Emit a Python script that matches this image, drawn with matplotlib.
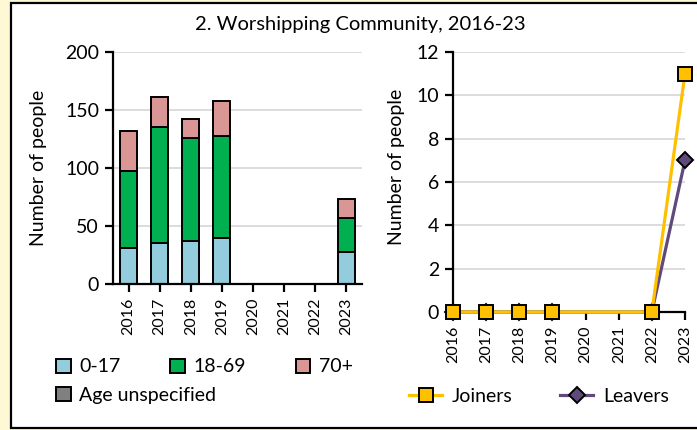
import matplotlib

matplotlib.use("Agg")
import matplotlib.pyplot as plt
import numpy as np
from matplotlib.lines import Line2D
from matplotlib.patches import Patch, Rectangle

plt.rcParams["font.family"] = ["Lato", "DejaVu Sans"]

# data
years = ["2016", "2017", "2018", "2019", "2020", "2021", "2022", "2023"]
age_0_17 = [31, 35, 37, 40, 0, 0, 0, 28]
age_18_69 = [66, 100, 89, 88, 0, 0, 0, 29]
age_70_plus = [35, 26, 16, 30, 0, 0, 0, 16]
age_unspecified = [0, 0, 0, 0, 0, 0, 0, 0]
joiners = [0, 0, 0, 0, None, None, 0, 11]
leavers = [0, 0, 0, 0, None, None, 0, 7]

C_YOUNG = "#93CDDD"
C_ADULT = "#00B050"
C_OLD = "#D99694"
C_UNSPEC = "#808080"
C_JOIN = "#FFC000"
C_LEAVE = "#604A7B"
GRID = "#D9D9D9"
FS = 14

fig = plt.figure(figsize=(6.97, 4.30), dpi=100, facecolor="#FEF8D4")
fig.patches.append(Rectangle((10.5 / 697, 2.5 / 430), 1.0, 425 / 430, transform=fig.transFigure,
                             facecolor="white", edgecolor="black", linewidth=1.6, zorder=-1))

fig.text(0.517, 0.942, "2. Worshipping Community, 2016-23", ha="center", va="center", fontsize=14.5)


def style_axes(ax):
    ax.set_facecolor("none")
    for side in ("top", "right"):
        ax.spines[side].set_visible(False)
    for side in ("left", "bottom"):
        ax.spines[side].set_linewidth(1.6)
    ax.yaxis.grid(True, color=GRID, linewidth=1.3)
    ax.set_axisbelow(True)
    ax.tick_params(axis="both", direction="out", length=6, width=1.6, color="black")
    ax.tick_params(axis="y", labelsize=FS, pad=4)
    ax.tick_params(axis="x", labelsize=11.5, labelrotation=90, pad=4)
    ax.set_ylabel("Number of people", fontsize=FS)


# stacked bars by age group
ax1 = fig.add_axes([113 / 697, 1 - 284 / 430, 249 / 697, 232 / 430])
x = np.arange(len(years))
bottom = np.zeros(len(years))
for vals, col in [(age_0_17, C_YOUNG), (age_18_69, C_ADULT), (age_70_plus, C_OLD), (age_unspecified, C_UNSPEC)]:
    vals = np.array(vals, dtype=float)
    mask = vals > 0
    ax1.bar(x[mask], vals[mask], bottom=bottom[mask], width=0.55, color=col, edgecolor="black", linewidth=1.4)
    bottom += vals
ax1.set_xlim(-0.5, len(years) - 0.5)
ax1.set_ylim(0, 200)
ax1.set_yticks([0, 50, 100, 150, 200])
ax1.set_xticks(x)
ax1.set_xticklabels(years)
style_axes(ax1)
ax1.yaxis.set_label_coords(-0.265, 0.5)

legend_kw = dict(frameon=False, fontsize=FS, handlelength=0.75, handleheight=0.75, handletextpad=0.45,
                 borderpad=0, borderaxespad=0)
row1 = [Patch(facecolor=c, edgecolor="black", linewidth=1.4) for c in (C_YOUNG, C_ADULT, C_OLD)]
fig.legend(row1, ["0-17", "18-69", "70+"], loc="center left", bbox_to_anchor=(56 / 697, 1 - 367 / 430),
           ncol=3, columnspacing=2.55, **legend_kw)
fig.legend([Patch(facecolor=C_UNSPEC, edgecolor="black", linewidth=1.4)], ["Age unspecified"],
           loc="center left", bbox_to_anchor=(56 / 697, 1 - 395 / 430), **legend_kw)

# joiners and leavers
ax2 = fig.add_axes([453 / 697, 1 - 312 / 430, 232 / 697, 260 / 430])
for vals, col, mk, ms in [(leavers, C_LEAVE, "D", 8), (joiners, C_JOIN, "s", 10)]:
    v = np.array([np.nan if val is None else val for val in vals], dtype=float)
    ok = ~np.isnan(v)
    ax2.plot(x[ok], v[ok], color=col, linewidth=2.3, marker=mk, markersize=ms, markerfacecolor=col,
             markeredgecolor="black", markeredgewidth=1.4, clip_on=False, zorder=3)
ax2.set_xlim(0, len(years) - 1)
ax2.set_ylim(0, 12)
ax2.set_yticks([0, 2, 4, 6, 8, 10, 12])
ax2.set_xticks(x)
ax2.set_xticklabels(years)
style_axes(ax2)
ax2.yaxis.set_label_coords(-0.205, 0.56)

line_handles = [
    Line2D([], [], color=C_JOIN, linewidth=2.3, marker="s", markersize=10, markerfacecolor=C_JOIN,
           markeredgecolor="black", markeredgewidth=1.4),
    Line2D([], [], color=C_LEAVE, linewidth=2.3, marker="D", markersize=8, markerfacecolor=C_LEAVE,
           markeredgecolor="black", markeredgewidth=1.4),
]
fig.legend(line_handles, ["Joiners", "Leavers"], loc="center left", bbox_to_anchor=(409 / 697, 1 - 396 / 430),
           ncol=2, frameon=False, fontsize=FS, handlelength=1.7, handletextpad=0.5, columnspacing=2.45,
           borderpad=0, borderaxespad=0)

fig.savefig("out.png", dpi=100, facecolor=fig.get_facecolor())
